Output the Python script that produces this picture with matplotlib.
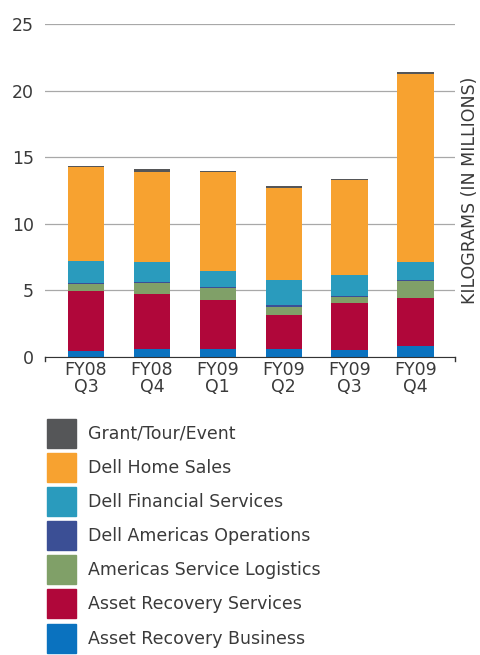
import matplotlib
matplotlib.use('Agg')
import matplotlib.pyplot as plt
from matplotlib.patches import Patch
import numpy as np

quarters = ['FY08\nQ3', 'FY08\nQ4', 'FY09\nQ1', 'FY09\nQ2', 'FY09\nQ3', 'FY09\nQ4']

# segments, bottom to top
asset_recovery_business = [0.45, 0.60, 0.60, 0.60, 0.55, 0.83]
asset_recovery_services = [4.48, 4.15, 3.68, 2.55, 3.53, 3.57]
americas_service_logistics = [0.57, 0.80, 0.87, 0.60, 0.40, 1.28]
dell_americas_operations = [0.08, 0.10, 0.12, 0.12, 0.12, 0.07]
dell_financial_services = [1.65, 1.50, 1.20, 1.92, 1.53, 1.41]
dell_home_sales = [7.05, 6.75, 7.40, 6.88, 7.13, 14.11]
grant_tour_event = [0.10, 0.25, 0.13, 0.20, 0.10, 0.13]

series = [
    ('Asset Recovery Business', asset_recovery_business, '#0a72bf'),
    ('Asset Recovery Services', asset_recovery_services, '#b0073a'),
    ('Americas Service Logistics', americas_service_logistics, '#80a068'),
    ('Dell Americas Operations', dell_americas_operations, '#3b4f95'),
    ('Dell Financial Services', dell_financial_services, '#2a9bbd'),
    ('Dell Home Sales', dell_home_sales, '#f7a230'),
    ('Grant/Tour/Event', grant_tour_event, '#555658'),
]

text_color = '#3a3a3a'
plt.rcParams['font.family'] = ['DejaVu Sans']

fig = plt.figure(figsize=(4.8, 6.55), dpi=100)
ax = fig.add_axes([0.094, 0.455, 0.854, 0.508])

x = np.arange(len(quarters))
bottom = np.zeros(len(quarters))
for name, vals, col in series:
    ax.bar(x, vals, width=0.55, bottom=bottom, color=col, zorder=3)
    bottom += np.array(vals)

ax.set_xlim(-0.62, 5.6)
ax.set_ylim(0, 25)
ax.set_yticks([0, 5, 10, 15, 20, 25])
ax.yaxis.grid(True, color='#a8a8a8', lw=0.9, zorder=0)
ax.xaxis.grid(False)
ax.tick_params(axis='y', length=0, pad=8, labelsize=12.5, labelcolor=text_color)

# category labels; small end ticks drawn on the axis line
ax.set_xticks(x)
ax.set_xticklabels(quarters)
ax.tick_params(axis='x', length=0, pad=3, labelsize=12.5, labelcolor=text_color)
for lab in ax.get_xticklabels():
    lab.set_linespacing(0.95)
for xe in ax.get_xlim():
    ax.plot([xe, xe], [0, -0.3], color='#333333', lw=1, clip_on=False)

for s in ['top', 'left', 'right']:
    ax.spines[s].set_visible(False)
ax.spines['bottom'].set_color('#333333')
ax.spines['bottom'].set_zorder(4)

ax.yaxis.set_label_position('right')
ax.set_ylabel('KILOGRAMS (IN MILLIONS)', fontsize=12.5, color=text_color,
              labelpad=4)

handles = [Patch(color=col, label=name) for name, vals, col in series[::-1]]
fig.legend(handles=handles, loc='upper left', bbox_to_anchor=(0.098, 0.361),
           frameon=False, fontsize=12.5, handlelength=1.67, handleheight=2.19,
           labelspacing=0.3, handletextpad=0.7, labelcolor=text_color,
           borderpad=0, borderaxespad=0)

fig.savefig('out.png', dpi=100)
